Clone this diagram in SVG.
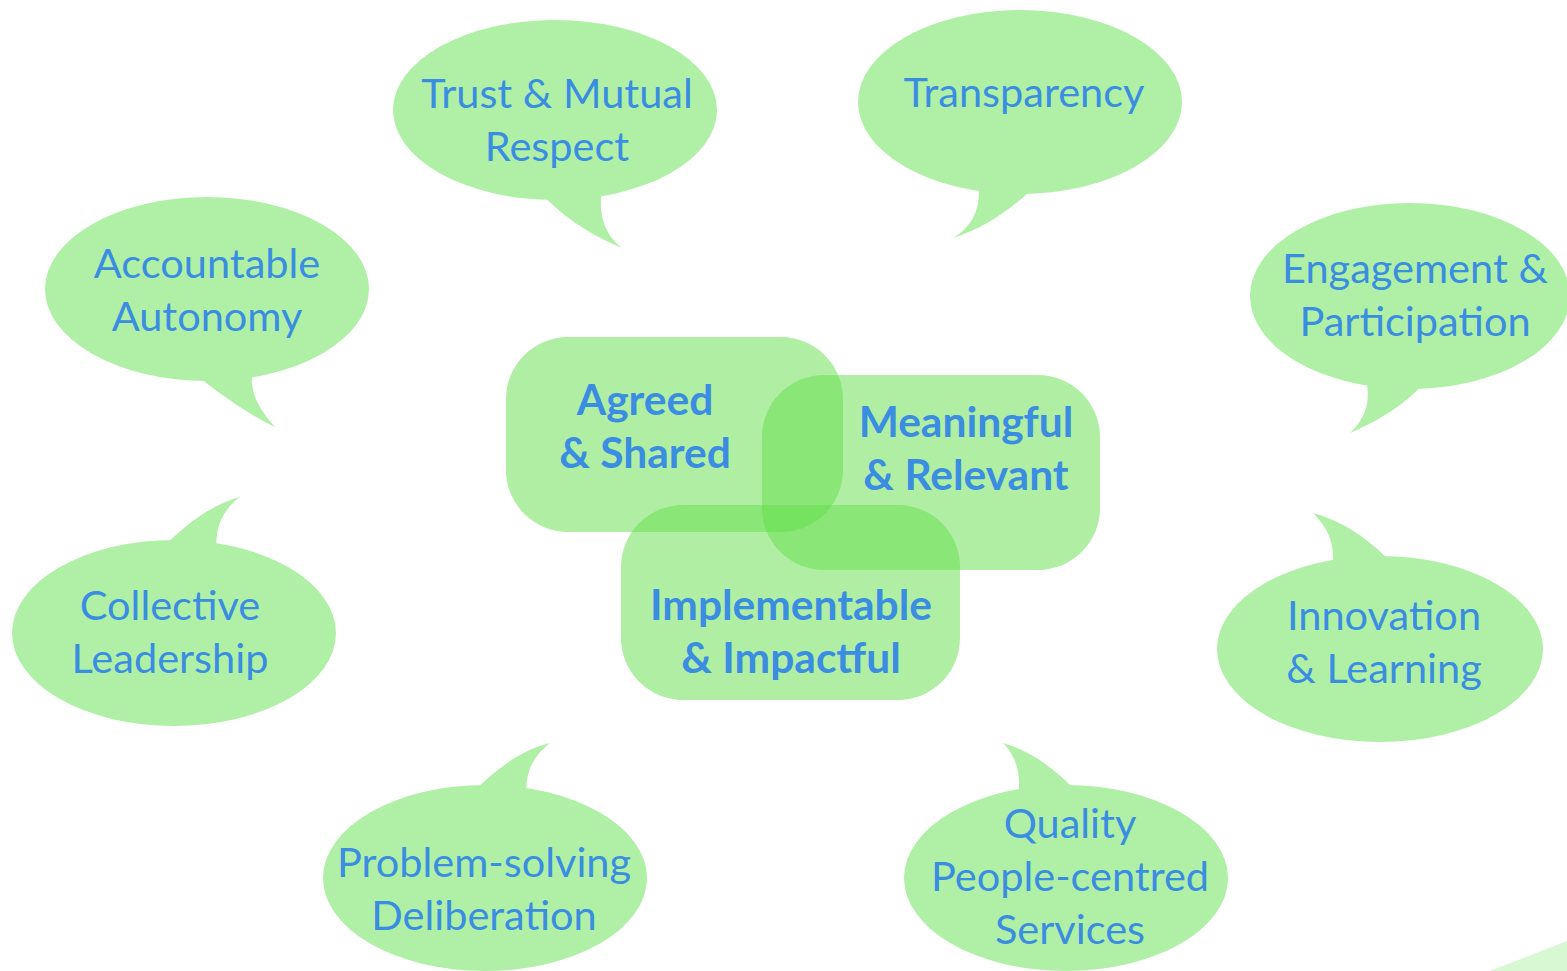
<svg xmlns="http://www.w3.org/2000/svg" width="1567" height="971" viewBox="0 0 1567 971">
  <style>
    .bubble { fill: #aff0a6; }
    .core { fill: #61dd49; fill-opacity: 0.5; }
    .lbl { font-family: "Lato", "Open Sans", sans-serif; font-size: 41.5px; fill: #3a8de0; text-anchor: middle; }
    .lblb { font-family: "Lato", "Open Sans", sans-serif; font-size: 42.5px; font-weight: bold; fill: #3a8de0; text-anchor: middle; }
  </style>
  <rect width="1567" height="971" fill="#ffffff"/>

  <!-- corner accent -->
  <polygon points="1490,971 1567,941 1567,971" fill="#d8f7d3"/>

  <!-- speech bubbles -->
  <g id="trust">
    <ellipse class="bubble" cx="555" cy="110" rx="162" ry="90"/>
    <path class="bubble" d="M538,190 C560,215 590,235 622,248 C605,235 598,215 602,190 Z"/>
    <text class="lbl" x="557" y="108">Trust &amp; Mutual</text>
    <text class="lbl" x="557" y="161">Respect</text>
  </g>
  <g id="transparency">
    <ellipse class="bubble" cx="1020" cy="102" rx="162" ry="92"/>
    <path class="bubble" d="M978,185 C982,210 970,228 953,238 C985,228 1010,210 1037,185 Z"/>
    <text class="lbl" x="1024" y="107">Transparency</text>
  </g>
  <g id="accountable">
    <ellipse class="bubble" cx="207" cy="289" rx="162" ry="92"/>
    <path class="bubble" d="M193,372 C220,395 250,415 275,427 C260,410 250,395 252,372 Z"/>
    <text class="lbl" x="207" y="278">Accountable</text>
    <text class="lbl" x="207" y="331">Autonomy</text>
  </g>
  <g id="engagement">
    <ellipse class="bubble" cx="1410" cy="296" rx="160" ry="93"/>
    <path class="bubble" d="M1366,380 C1372,405 1362,422 1350,433 C1380,420 1405,405 1427,380 Z"/>
    <text class="lbl" x="1415" y="283">Engagement &amp;</text>
    <text class="lbl" x="1415" y="336">Participation</text>
  </g>
  <g id="collective">
    <ellipse class="bubble" cx="174" cy="633" rx="162" ry="93"/>
    <path class="bubble" d="M158,552 C185,525 210,505 240,497 C222,510 214,530 217,552 Z"/>
    <text class="lbl" x="170" y="620">Collective</text>
    <text class="lbl" x="170" y="673">Leadership</text>
  </g>
  <g id="innovation">
    <ellipse class="bubble" cx="1380" cy="649" rx="163" ry="93"/>
    <path class="bubble" d="M1333,565 C1335,540 1325,525 1313,513 C1345,522 1370,540 1394,565 Z"/>
    <text class="lbl" x="1384" y="630">Innovation</text>
    <text class="lbl" x="1384" y="683">&amp; Learning</text>
  </g>
  <g id="problem">
    <ellipse class="bubble" cx="485" cy="878" rx="162" ry="93"/>
    <path class="bubble" d="M468,797 C495,770 520,750 550,743 C532,757 524,775 527,797 Z"/>
    <text class="lbl" x="484" y="877">Problem-solving</text>
    <text class="lbl" x="484" y="930">Deliberation</text>
  </g>
  <g id="quality">
    <ellipse class="bubble" cx="1066" cy="878" rx="162" ry="93"/>
    <path class="bubble" d="M1018,797 C1022,773 1015,755 1003,743 C1035,752 1058,772 1082,797 Z"/>
    <text class="lbl" x="1070" y="838">Quality</text>
    <text class="lbl" x="1070" y="891">People-centred</text>
    <text class="lbl" x="1070" y="944">Services</text>
  </g>

  <!-- overlapping core panels -->
  <g id="agreed">
    <rect class="core" x="506" y="337" width="337" height="195" rx="62"/>
  </g>
  <g id="meaningful">
    <rect class="core" x="762" y="375" width="338" height="195" rx="62"/>
  </g>
  <g id="implementable">
    <rect class="core" x="621" y="505" width="339" height="195" rx="62"/>
  </g>
  <g id="core-labels">
    <text class="lblb" x="645" y="415">Agreed</text>
    <text class="lblb" x="645" y="468">&amp; Shared</text>
    <text class="lblb" x="966" y="437">Meaningful</text>
    <text class="lblb" x="966" y="490">&amp; Relevant</text>
    <text class="lblb" x="791" y="620">Implementable</text>
    <text class="lblb" x="791" y="673">&amp; Impactful</text>
  </g>
  <g id="connectors"/>
</svg>
